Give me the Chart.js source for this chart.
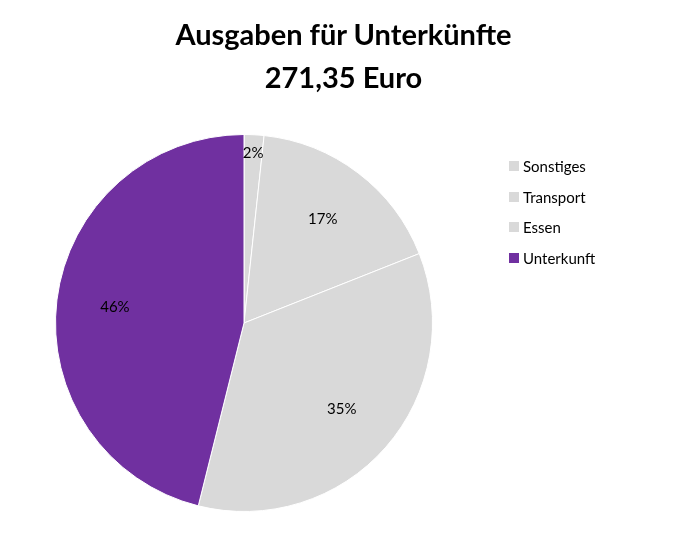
<!DOCTYPE html>
<html lang="de">
<head>
    <meta charset="UTF-8">
    <title>Ausgaben für Unterkünfte</title>
    <script src="https://cdn.jsdelivr.net/npm/chart.js"></script>
    <style>
        body{margin:0;background:#fff;font-family:Lato,"Open Sans",sans-serif;}
        .box{position:relative;width:687px;height:533px;overflow:hidden;}
        canvas{position:absolute;left:0;top:0;}
        .titel{position:absolute;left:0;width:687px;text-align:center;font-weight:bold;font-size:29px;color:#000;line-height:30px;}
        #legende{position:absolute;left:509px;top:151px;}
        .item{height:30.5px;font-size:15px;color:#000;display:flex;align-items:center;}
        .item span{display:inline-block;width:10px;height:10px;margin-right:4px;}
    </style>
</head>
<body>
<div class="box">
    <canvas id="kuchen" width="687" height="533"></canvas>
    <div class="titel" style="top:19px">Ausgaben für Unterkünfte</div>
    <div class="titel" style="top:62px">271,35 Euro</div>
    <div id="legende"></div>
</div>
<script>
    // Anteile in Prozent
    const kategorien = ['Sonstiges', 'Transport', 'Essen', 'Unterkunft']
    const anteile = [1.7, 17.3, 34.9, 46.1]
    const farben = ['#d9d9d9', '#d9d9d9', '#d9d9d9', '#7030a0']

    const summe = anteile.reduce((a, b) => a + b, 0)

    // Prozentwerte in die Stücke schreiben
    const prozentLabels = {
        id: 'prozentLabels',
        afterDatasetsDraw(chart){
            const c = chart.ctx
            const meta = chart.getDatasetMeta(0)
            c.save()
            c.font = '15px Lato, "Open Sans", sans-serif'
            c.fillStyle = '#000'
            c.textAlign = 'center'
            c.textBaseline = 'middle'
            meta.data.forEach((arc, i) => {
                const p = arc.getProps(['x', 'y', 'startAngle', 'endAngle', 'outerRadius'])
                const mitte = (p.startAngle + p.endAngle) / 2
                const anteil = anteile[i] / summe * 100
                const f = anteil < 5 ? 0.9 : 0.69
                const x = p.x + Math.cos(mitte) * p.outerRadius * f
                const y = p.y + Math.sin(mitte) * p.outerRadius * f
                c.fillText(Math.round(anteil) + '%', x, y)
            })
            c.restore()
        }
    }

    const grafik = new Chart(document.getElementById('kuchen'), {
        type: 'pie',
        data: {
            labels: kategorien,
            datasets: [{
                data: anteile,
                backgroundColor: farben,
                borderColor: '#ffffff',
                borderWidth: 1
            }]
        },
        options: {
            responsive: false,
            animation: false,
            layout: {
                padding: {left: 55, right: 254, top: 134, bottom: 21}
            },
            plugins: {
                legend: {display: false},
                tooltip: {enabled: false}
            }
        },
        plugins: [prozentLabels]
    });

    // Legende
    const legende = document.getElementById('legende')
    kategorien.forEach((k, i) => {
        const el = document.createElement('div')
        el.className = 'item'
        el.innerHTML = `<span style="background:${farben[i]}"></span>${k}`
        legende.appendChild(el)
    })
</script>
</body>
</html>
